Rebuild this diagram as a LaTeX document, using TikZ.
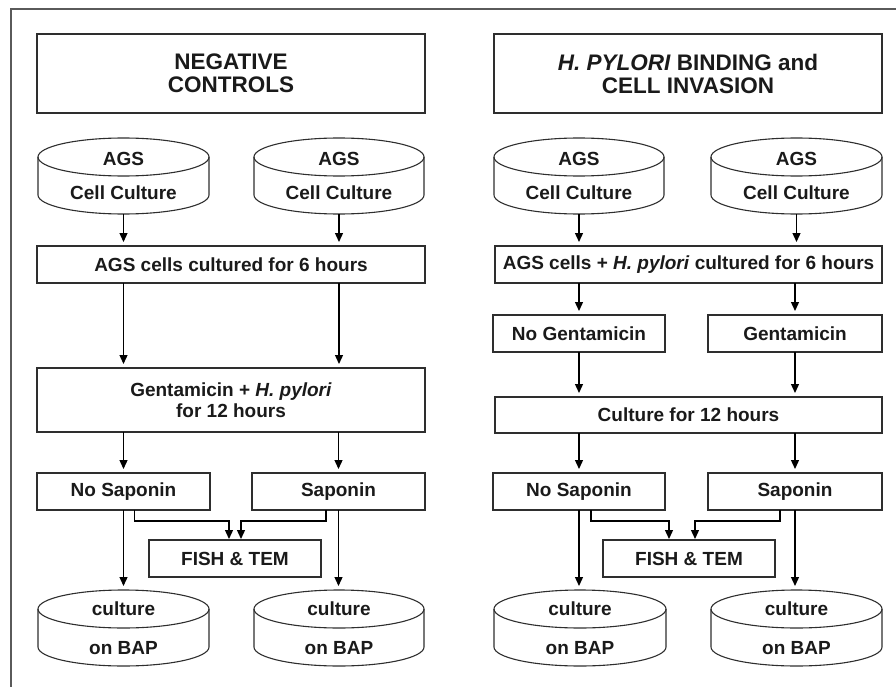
\documentclass[tikz,border=0pt]{standalone}
\usepackage{fontspec}
\setmainfont{Liberation Sans}
\usetikzlibrary{arrows.meta,calc}
\definecolor{framecol}{HTML}{5A5A5A}
\definecolor{edgecol}{HTML}{2E2E2E}
\definecolor{txtcol}{HTML}{1A1A1A}
\newcommand\cylshape[2]{%
  \draw[edgecol, line width=1.1pt] ($(#1.north west)+(0,19)$) -- ($(#1.south west)+(0,-19)$)
     arc[start angle=180, end angle=360, x radius=#2pt, y radius=19pt]
     -- ($(#1.north east)+(0,19)$);
  \draw[edgecol, line width=1.1pt] ($(#1.north)+(0,19)$) ellipse[x radius=#2pt, y radius=19pt];
}
\begin{document}
\begin{tikzpicture}[x=1pt,y=-1pt,
  box/.style={draw=edgecol, line width=1.1pt, inner sep=0pt, outer sep=0pt, align=center,
    text=txtcol, font=\fontsize{19}{21}\selectfont\bfseries},
  titlebox/.style={box, font=\fontsize{22.5}{23}\selectfont\bfseries},
  cyl/.style={inner sep=0pt, outer sep=0pt, align=center, minimum height=76pt,
    text=txtcol, font=\fontsize{19}{34}\selectfont\bfseries},
  arr/.style={line width=1.3pt, -{Triangle[length=9pt,width=8pt]}, shorten >=4pt},
  farr/.style={arr, shorten >=1pt},
]
\useasboundingbox (0,0) rectangle (896,687);
\draw[framecol, line width=1.5pt] (896,9) -- (11,9) -- (11,687);

% ---------- left column ----------
\node[titlebox, minimum width=388pt, minimum height=79pt] (t1) at (231,73.5) {NEGATIVE\\CONTROLS};
\node[cyl, minimum width=171pt] (c1) at (123.5,176) {AGS\\Cell Culture};
\node[cyl, minimum width=170pt] (c2) at (339,176) {AGS\\Cell Culture};
\cylshape{c1}{85.5}
\cylshape{c2}{85}
\node[box, minimum width=388pt, minimum height=37pt] (b1) at (231,264.5) {AGS cells cultured for 6 hours};
\node[box, minimum width=388pt, minimum height=64pt] (g1) at (231,400) {Gentamicin + \textit{H. pylori}\\for 12 hours};
\node[box, minimum width=173pt, minimum height=37pt] (ns1) at (123.5,491.5) {No Saponin};
\node[box, minimum width=173pt, minimum height=37pt] (s1) at (338.5,491.5) {Saponin};
\node[box, minimum width=172pt, minimum height=37pt] (f1) at (235,558.5) {FISH \& TEM};
\node[cyl, minimum width=171pt] (d1) at (123.5,628) {culture\\[5pt]on BAP};
\node[cyl, minimum width=170pt] (d2) at (339,628) {culture\\[5pt]on BAP};
\cylshape{d1}{85.5}
\cylshape{d2}{85}

\draw[arr] (c1.south) -- (b1.north -| c1);
\draw[arr] (c2.south) -- (b1.north -| c2);
\draw[arr] (b1.south -| c1) -- (g1.north -| c1);
\draw[arr] (b1.south -| c2) -- (g1.north -| c2);
\draw[arr] (g1.south -| ns1) -- (ns1.north);
\draw[arr] (g1.south -| s1) -- (s1.north);
\draw[arr] (ns1.south) -- (d1.north -| ns1);
\draw[arr] (s1.south) -- (d2.north -| s1);
\draw[farr] ($(ns1.south)+(11,0)$) -- ++(0,11) -| ($(f1.north)+(-6,0)$);
\draw[farr] ($(s1.south)+(-12.5,0)$) -- ++(0,11) -| ($(f1.north)+(6,0)$);

% ---------- right column ----------
\node[titlebox, minimum width=388pt, minimum height=79pt] (t2) at (688,73.5) {\textit{H. PYLORI} BINDING and\\CELL INVASION};
\node[cyl, minimum width=170pt] (c3) at (579,176) {AGS\\Cell Culture};
\node[cyl, minimum width=171pt] (c4) at (796.5,176) {AGS\\Cell Culture};
\cylshape{c3}{85}
\cylshape{c4}{85.5}
\node[box, minimum width=387pt, minimum height=37pt] (b2) at (688.5,264.5) {AGS cells + \textit{H. pylori} cultured for 6 hours};
\node[box, minimum width=172pt, minimum height=37pt] (ng) at (579,333.5) {No Gentamicin};
\node[box, minimum width=174pt, minimum height=37pt] (gm) at (795,333.5) {Gentamicin};
\node[box, minimum width=387pt, minimum height=36pt] (cu) at (688.5,415) {Culture for 12 hours};
\node[box, minimum width=172pt, minimum height=37pt] (ns2) at (579,491.5) {No Saponin};
\node[box, minimum width=174pt, minimum height=37pt] (s2) at (795,491.5) {Saponin};
\node[box, minimum width=172pt, minimum height=37pt] (f2) at (689,558.5) {FISH \& TEM};
\node[cyl, minimum width=172pt] (d3) at (580,628) {culture\\[5pt]on BAP};
\node[cyl, minimum width=171pt] (d4) at (796.5,628) {culture\\[5pt]on BAP};
\cylshape{d3}{86}
\cylshape{d4}{85.5}

\draw[arr] (c3.south) -- (b2.north -| c3);
\draw[arr] (c4.south) -- (b2.north -| c4);
\draw[arr] (b2.south -| ng) -- (ng.north);
\draw[arr] (b2.south -| gm) -- (gm.north);
\draw[arr] (ng.south) -- (cu.north -| ng);
\draw[arr] (gm.south) -- (cu.north -| gm);
\draw[arr] (cu.south -| ns2) -- (ns2.north);
\draw[arr] (cu.south -| s2) -- (s2.north);
\draw[arr] (ns2.south) -- (d3.north -| ns2);
\draw[arr] (s2.south) -- (d4.north -| s2);
\draw[farr] ($(ns2.south)+(12,0)$) -- ++(0,11) -| ($(f2.north)+(-20,0)$);
\draw[farr] ($(s2.south)+(-15,0)$) -- ++(0,11) -| ($(f2.north)+(6,0)$);
\end{tikzpicture}
\end{document}
